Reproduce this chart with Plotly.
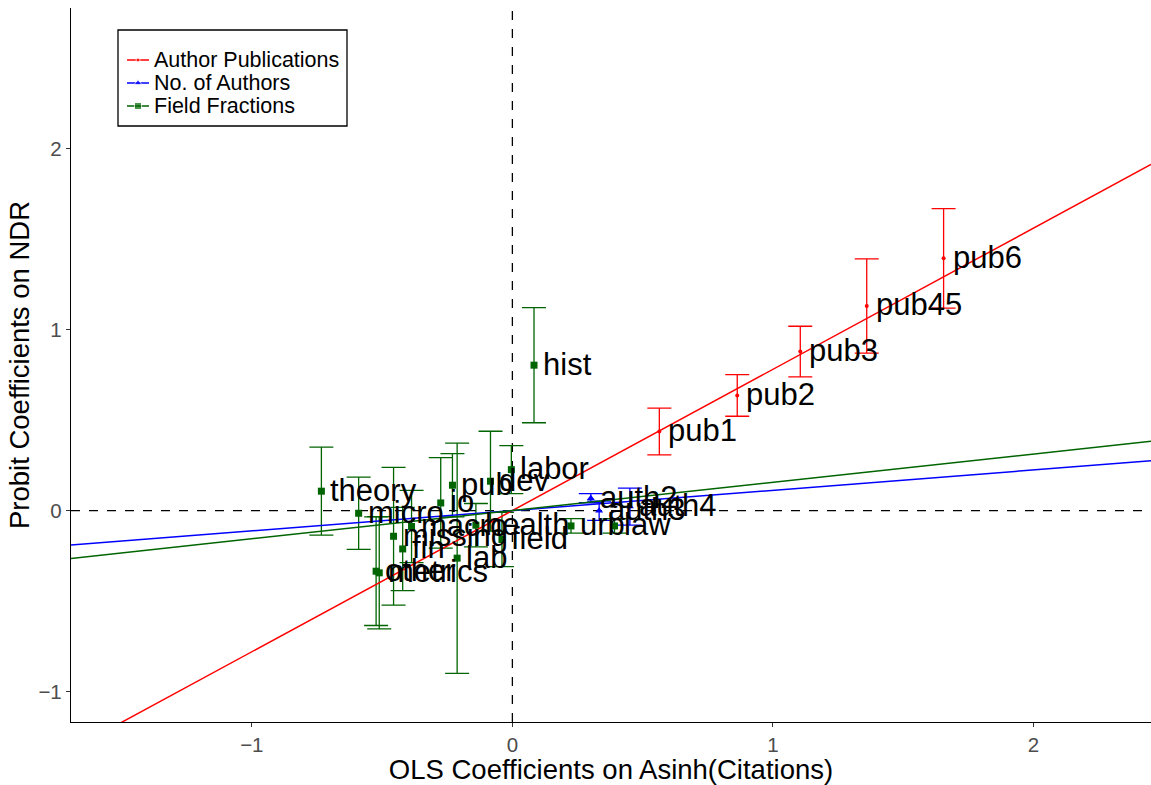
import plotly.graph_objects as go

# Author publications (red)
pub_labels = ["pub1", "pub2", "pub3", "pub45", "pub6"]
pub_x = [0.564, 0.863, 1.105, 1.360, 1.655]
pub_y = [0.437, 0.636, 0.878, 1.130, 1.393]
pub_err = [0.129, 0.115, 0.140, 0.260, 0.275]

# Number of authors (blue)
auth_labels = ["auth2", "auth3", "auth4"]
auth_x = [0.301, 0.333, 0.451]
auth_y = [0.068, -0.001, 0.022]
auth_err = [0.025, 0.053, 0.102]

# Field fractions (green)
field_labels = ["theory", "micro", "io", "pub", "dev", "labor", "hist", "macro",
                "health", "urb", "law", "missing", "field", "fin", "lab",
                "other", "metrics"]
field_x = [-0.733, -0.590, -0.275, -0.230, -0.084, -0.004, 0.083, -0.387,
           -0.140, 0.225, 0.392, -0.456, -0.040, -0.421, -0.212,
           -0.523, -0.511]
field_y = [0.107, -0.015, 0.042, 0.140, 0.162, 0.226, 0.803, -0.088,
           -0.081, -0.085, -0.085, -0.142, -0.160, -0.212, -0.263,
           -0.335, -0.344]
field_err = [0.243, 0.200, 0.250, 0.175, 0.276, 0.133, 0.318, 0.200,
             0.120, 0.040, 0.040, 0.380, 0.150, 0.230, 0.636,
             0.300, 0.310]

# fitted slopes (through origin)
slopes = {"red": 0.78, "blue": 0.112, "darkgreen": 0.156}

XRANGE = [-1.694, 2.451]
YRANGE = [-1.168, 2.776]

FONT = "Liberation Sans, Arial, Helvetica, sans-serif"

fig = go.Figure()

groups = [
    ("Author Publications", "red", "circle", 4, pub_x, pub_y, pub_err, pub_labels),
    ("No. of Authors", "blue", "triangle-up", 7, auth_x, auth_y, auth_err, auth_labels),
    ("Field Fractions", "darkgreen", "square", 7, field_x, field_y, field_err, field_labels),
]

# error bars + points
for name, col, sym, sz, xs, ys, es, labs in groups:
    fig.add_trace(go.Scatter(
        x=xs, y=ys, mode="markers",
        marker=dict(color=col, symbol=sym, size=sz),
        error_y=dict(type="data", array=es, color=col, thickness=1.3, width=12),
        showlegend=False, hoverinfo="skip"
    ))

# regression lines
for name, col, sym, sz, xs, ys, es, labs in groups:
    k = slopes[col]
    fig.add_trace(go.Scatter(
        x=XRANGE, y=[k * v for v in XRANGE], mode="lines",
        line=dict(color=col, width=1.5), showlegend=False, hoverinfo="skip"
    ))

# labels
for name, col, sym, sz, xs, ys, es, labs in groups:
    for lx, ly, lt in zip(xs, ys, labs):
        fig.add_annotation(x=lx, y=ly, text=lt, showarrow=False,
                           xanchor="left", yanchor="middle", xshift=7, yshift=1,
                           font=dict(family=FONT, size=31, color="black"))

# hand-made legend on a pixel overlay axis (plot area is 1080 x 714 px)
fig.add_shape(type="rect", xref="x2", yref="y2", x0=47, x1=276, y0=596, y1=692,
              line=dict(color="black", width=1.3), fillcolor="white", layer="below")
leg_rows = [662, 639, 616]
for (name, col, sym, sz, *_), ry in zip(groups, leg_rows):
    fig.add_trace(go.Scatter(
        x=[56, 67, 78], y=[ry, ry, ry], xaxis="x2", yaxis="y2",
        mode="lines+markers", line=dict(color=col, width=1.5),
        marker=dict(color=col, symbol=sym, size=[0, sz, 0]),
        showlegend=False, hoverinfo="skip"
    ))
    fig.add_annotation(x=81, y=ry, xref="x2", yref="y2", text=name, showarrow=False,
                       xanchor="left", yanchor="middle",
                       font=dict(family=FONT, size=21.5, color="black"))

# dashed zero lines
fig.add_shape(type="line", x0=0, x1=0, y0=0, y1=1, xref="x", yref="paper",
              line=dict(color="black", width=1.3, dash="dash"), layer="below")
fig.add_shape(type="line", x0=0, x1=1, y0=0, y1=0, xref="paper", yref="y",
              line=dict(color="black", width=1.3, dash="dash"), layer="below")

fig.update_layout(
    width=1151, height=785,
    margin=dict(l=71, r=0, t=8, b=63),
    plot_bgcolor="white", paper_bgcolor="white",
    font=dict(family=FONT, color="black"),
    showlegend=False,
    xaxis=dict(range=XRANGE, tickvals=[-1, 0, 1, 2], showgrid=False, zeroline=False,
               showline=True, linecolor="black", linewidth=1.3,
               ticks="outside", ticklen=4, tickcolor="#333333",
               tickfont=dict(size=20.5, color="#4d4d4d"),
               title=dict(text="OLS Coefficients on Asinh(Citations)",
                          font=dict(size=27.5, color="black"), standoff=2)),
    yaxis=dict(range=YRANGE, tickvals=[-1, 0, 1, 2], showgrid=False, zeroline=False,
               showline=True, linecolor="black", linewidth=1.3,
               ticks="outside", ticklen=4, tickcolor="#333333",
               tickfont=dict(size=20.5, color="#4d4d4d"),
               title=dict(text="Probit Coefficients on NDR",
                          font=dict(size=27.5, color="black"), standoff=0)),
    xaxis2=dict(overlaying="x", range=[0, 1080], visible=False, fixedrange=True),
    yaxis2=dict(overlaying="y", range=[0, 714], visible=False, fixedrange=True),
)

fig.write_html("out.html", config={"displayModeBar": False},
               post_script="document.body.style.margin='0';"
                           "document.body.style.overflow='hidden';")
